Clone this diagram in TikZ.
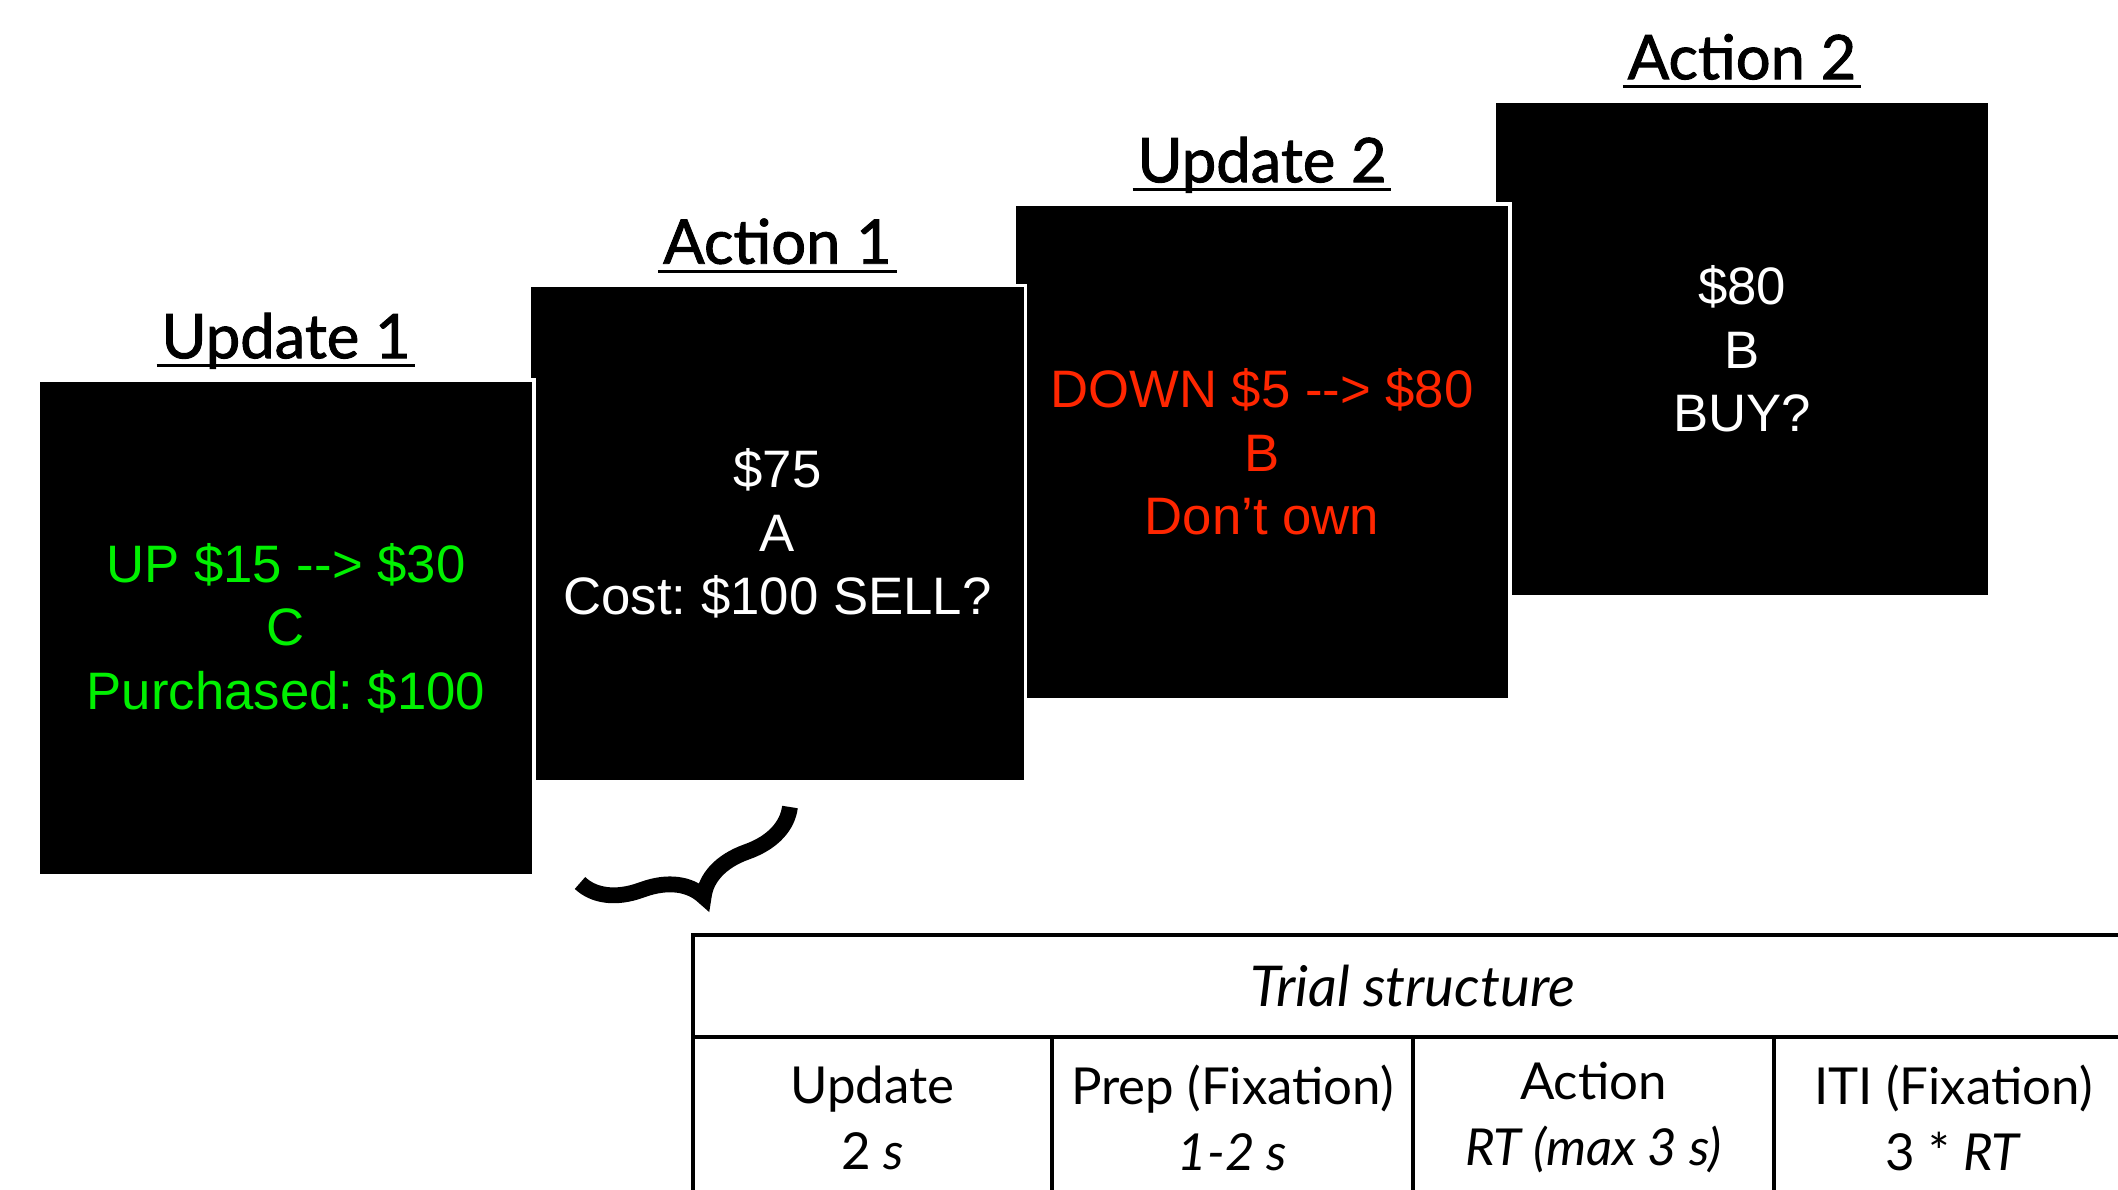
\documentclass[tikz,border=0pt]{standalone}
\usepackage{fontspec}
\setmainfont{Liberation Sans}
\newfontfamily\headfont{Lato}[FakeBold=1.5]
\newfontfamily\cellfont{Lato}
\usetikzlibrary{decorations.pathreplacing}
\definecolor{qgreen}{RGB}{0,240,0}
\definecolor{qred}{RGB}{255,38,0}
\frenchspacing

\begin{document}
\begin{tikzpicture}[
  screen/.style={fill=black, draw=white, line width=1pt, minimum size=4.96cm,
    inner sep=0pt, align=center, font=\fontsize{15}{18.1}\selectfont},
  head/.style={font=\headfont\fontsize{17.5}{20}\selectfont, inner xsep=0.04cm, inner ysep=0pt},
  uline/.style={line width=0.9pt},
  cell/.style={font=\cellfont\fontsize{14.5}{18.8}\selectfont, align=center},
  grid/.style={line width=0.9pt}
]
\def\W{21.18}
\def\H{11.90}
\def\hup{0.2}
\def\ul{0.075}

\useasboundingbox (0,0) rectangle (\W,\H);
\clip (0,0) rectangle (\W,\H);

%Screens, last one first so each lies on top of the next:
\node[screen, text=white] (act2) at (17.42,8.41) {\$80\\B\\BUY?};
\node[screen, text=qred] (upd2) at (12.62,7.38) {DOWN \$5 -{}-> \$80\\B\\Don’t own};
\node[screen, text=white] (act1) at (7.775,6.565) {\$75\\A\\Cost: \$100 SELL?};
\node[screen, text=qgreen] (upd1) at (2.86,5.62) {UP \$15 -{}-> \$30\\C\\Purchased: \$100};

%Headings:
\foreach \s/\t in {upd1/Update 1, act1/Action 1, upd2/Update 2, act2/Action 2}{
  \node[head, anchor=base] (h\s) at ([yshift=\hup cm]\s.north) {\t};
  \draw[uline] ([yshift=-\ul cm]h\s.base west) -- ([yshift=-\ul cm]h\s.base east);
}

%Brace:
\coordinate (bl) at (5.80,3.07);
\coordinate (br) at (7.90,3.83);
\draw[line width=4.5pt, decorate, decoration={brace, mirror, amplitude=0.55cm}] (bl) -- (br);

%Table:
\coordinate (tl) at (6.93,2.55);
\coordinate (ml) at (6.93,1.53);
\draw[grid] (21.40,2.55) -- (tl) -- (6.93,-0.1);
\draw[grid] (ml) -- (21.40,1.53);
\foreach \x in {10.52,14.13,17.74}
  \draw[grid] (\x,1.53) -- (\x,-0.1);
\node[cell, font=\cellfont\fontsize{16}{19}\selectfont] (ttl) at (14.13,2.04) {\itshape Trial structure};
\node[cell] (cupd) at (8.725,0.72) {Update\\2 \textit{s}};
\node[cell] (cprep) at (12.325,0.72) {Prep (Fixation)\\\textit{1-2 s}};
\node[cell] (cact) at (15.935,0.72) {Action\\\textit{RT (max 3 s)}};
\node[cell] (citi) at (19.535,0.72) {ITI (Fixation)\\3 * \textit{RT}};

\end{tikzpicture}
\end{document}
